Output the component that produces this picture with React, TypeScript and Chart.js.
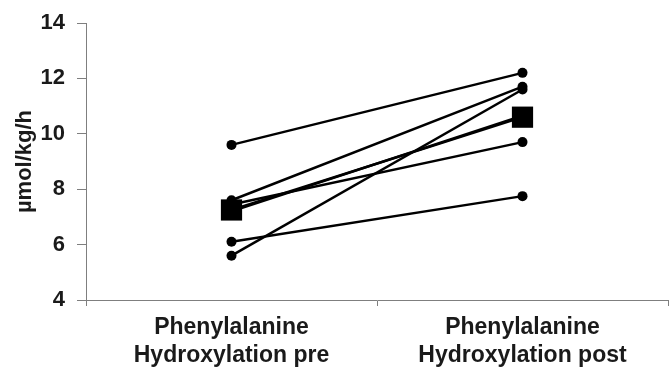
import React, { useEffect, useRef } from "react";
import { Chart, registerables } from "chart.js";

Chart.register(...registerables);

const categories: string[][] = [
  ["Phenylalanine", "Hydroxylation pre"],
  ["Phenylalanine", "Hydroxylation post"],
];
const preValues = [9.6, 7.6, 7.45, 7.2, 6.1, 5.6];
const postValues = [12.2, 11.7, 9.7, 10.65, 7.75, 11.6];
const meanValues = [7.25, 10.6];
const yTicks = [4, 6, 8, 10, 12, 14];
const yTitle = "µmol/kg/h";

const FONT = "'Liberation Sans', Arial, sans-serif";
const TEXT = "#1a1a1a";
const AXIS = "#7f7f7f";

export default function App() {
  const ref = useRef<HTMLCanvasElement | null>(null);
  useEffect(() => {
    document.body.style.margin = "0";
    const canvas = ref.current!;
    const subjectSets = preValues.map((p, i) => ({
      label: "S" + (i + 1),
      data: [p, postValues[i]],
      borderColor: "#000",
      backgroundColor: "#000",
      borderWidth: 2.5,
      pointRadius: 5,
      pointBorderWidth: 0,
      pointBackgroundColor: "#000",
      pointStyle: "circle",
    }));
    const chart = new Chart(canvas, {
      type: "line",
      data: {
        labels: categories,
        datasets: [
          ...subjectSets,
          {
            label: "Mean",
            data: meanValues,
            borderColor: "#000",
            backgroundColor: "#000",
            borderWidth: 2.5,
            pointRadius: 15,
            pointBorderWidth: 0,
            pointBackgroundColor: "#000",
            pointStyle: "rect",
          },
        ] as any,
      },
      options: {
        animation: false,
        responsive: false,
        maintainAspectRatio: false,
        events: [],
        layout: { autoPadding: false, padding: { top: 23, right: 1, left: 0, bottom: 0 } },
        plugins: { legend: { display: false }, tooltip: { enabled: false } },
        datasets: { line: { clip: false as any } },
        scales: {
          x: {
            type: "category",
            offset: true,
            grid: {
              offset: true,
              drawOnChartArea: false,
              drawTicks: true,
              tickLength: 6,
              color: AXIS,
              lineWidth: 1,
            },
            border: { display: true, color: AXIS, width: 1 },
            ticks: {
              color: TEXT,
              padding: 8,
              maxRotation: 0,
              autoSkip: false,
              font: { family: FONT, size: 23, weight: "bold", lineHeight: 1.2 },
            },
            afterFit: (s: any) => {
              s.height = 69;
              s.paddingLeft = 0;
              s.paddingRight = 0;
              s.paddingTop = 0;
              s.paddingBottom = 0;
            },
          },
          y: {
            type: "linear",
            min: 4,
            max: 14,
            afterBuildTicks: (s: any) => {
              s.ticks = yTicks.map((v) => ({ value: v }));
            },
            grid: {
              drawOnChartArea: false,
              drawTicks: true,
              tickLength: 9,
              color: AXIS,
              lineWidth: 1,
            },
            border: { display: true, color: AXIS, width: 1 },
            ticks: {
              color: TEXT,
              padding: 12,
              font: { family: FONT, size: 22, weight: "bold" },
            },
            title: {
              display: true,
              text: yTitle,
              color: TEXT,
              padding: { top: 12, bottom: 0 },
              font: { family: FONT, size: 22, weight: "bold", lineHeight: 1.2 },
            },
            afterFit: (s: any) => {
              s.width = 86;
              s.paddingLeft = 0;
              s.paddingRight = 0;
              s.paddingTop = 0;
              s.paddingBottom = 0;
            },
          },
        },
      },
    });
    return () => chart.destroy();
  }, []);
  return (
    <div style={{ width: 669, height: 369 }}>
      <canvas ref={ref} width={669} height={369} style={{ display: "block" }} />
    </div>
  );
}
